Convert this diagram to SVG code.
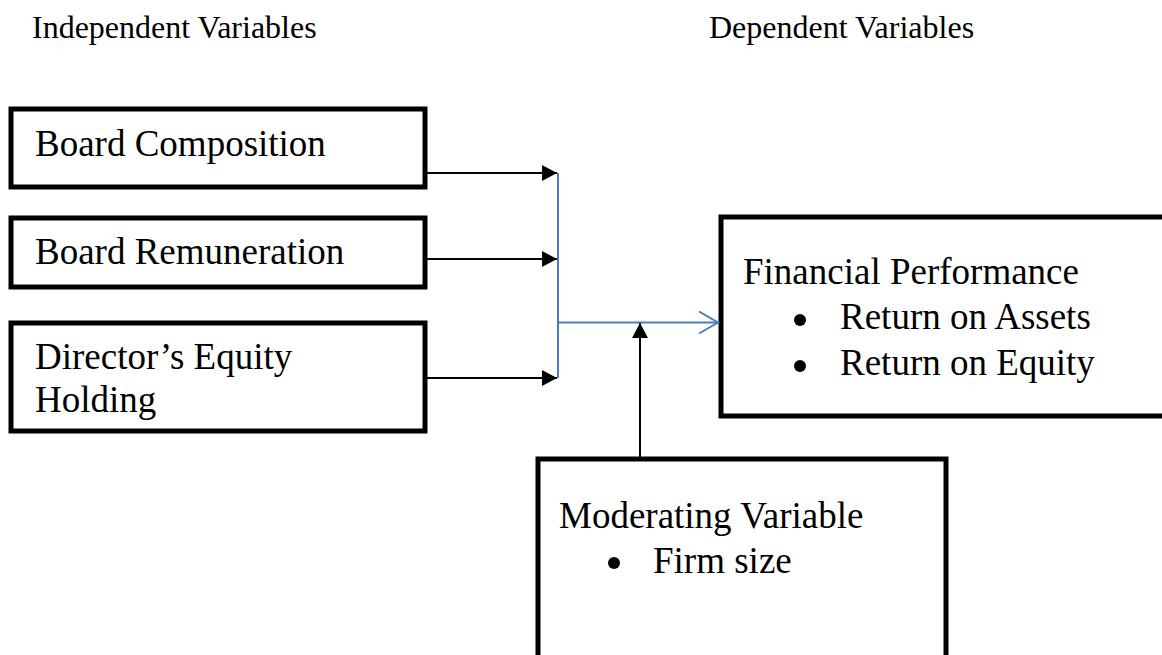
<svg xmlns="http://www.w3.org/2000/svg" width="1162" height="655" viewBox="0 0 1162 655">
<style>
.box{fill:#fff;stroke:#000;stroke-width:5}
.t{font-family:"Liberation Serif","Times New Roman",serif;font-size:37px;fill:#000}
.h{font-family:"Liberation Serif","Times New Roman",serif;font-size:32px;fill:#000}
.dot{fill:#000}
.blk{stroke:#000;stroke-width:2;fill:none}
.blu{stroke:#4a7ebb;stroke-width:2;fill:none}
</style>
<defs>
<marker id="ah" markerWidth="15" markerHeight="16" refX="15" refY="8" orient="auto" markerUnits="userSpaceOnUse">
<path d="M0,0 L15,8 L0,16 Z" fill="#000"/>
</marker>
<marker id="ao" markerWidth="22" markerHeight="24" refX="20" refY="12" orient="auto" markerUnits="userSpaceOnUse">
<path d="M1,1 L20,12 L1,23" fill="none" stroke="#4a7ebb" stroke-width="2"/>
</marker>
</defs>
<rect width="1162" height="655" fill="#fff"/>
<text class="h" x="32" y="38">Independent Variables</text>
<text class="h" x="709" y="38">Dependent Variables</text>
<g id="board-composition">
<rect class="box" x="11" y="109" width="414" height="78"/>
<text class="t" x="35" y="156">Board Composition</text>
</g>
<g id="board-remuneration">
<rect class="box" x="11" y="218" width="414" height="69"/>
<text class="t" x="35" y="264">Board Remuneration</text>
</g>
<g id="director-equity">
<rect class="box" x="11" y="323" width="414" height="108"/>
<text class="t" x="35" y="369">Director’s Equity</text>
<text class="t" x="35" y="412">Holding</text>
</g>
<g id="financial-performance">
<rect class="box" x="721" y="217" width="460" height="199"/>
<text class="t" x="743" y="284">Financial Performance</text>
<circle class="dot" cx="800" cy="320" r="6"/>
<text class="t" x="840" y="329">Return on Assets</text>
<circle class="dot" cx="800" cy="366" r="6"/>
<text class="t" x="840" y="375">Return on Equity</text>
</g>
<g id="moderating-variable">
<rect class="box" x="538" y="459" width="408" height="220"/>
<text class="t" x="559" y="528">Moderating Variable</text>
<circle class="dot" cx="614" cy="563" r="6"/>
<text class="t" x="653" y="573">Firm size</text>
</g>
<g id="connectors">
<line class="blk" x1="427" y1="173" x2="557" y2="173" marker-end="url(#ah)"/>
<line class="blk" x1="427" y1="259" x2="557" y2="259" marker-end="url(#ah)"/>
<line class="blk" x1="427" y1="378" x2="557" y2="378" marker-end="url(#ah)"/>
<line class="blu" x1="558" y1="173" x2="558" y2="378"/>
<line class="blu" x1="558" y1="322.5" x2="718" y2="322.5" marker-end="url(#ao)"/>
<line class="blk" x1="640" y1="457" x2="640" y2="323" marker-end="url(#ah)"/>
</g>
</svg>
